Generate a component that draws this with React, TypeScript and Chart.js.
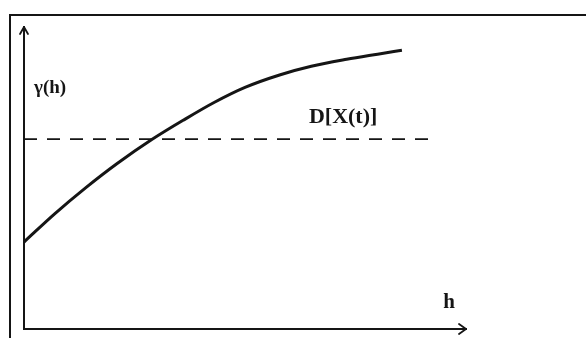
import React, { useEffect, useRef } from "react";
import { Chart, registerables } from "chart.js";

Chart.register(...registerables);

// Curve gamma(h): h values and gamma values
const hValues = [0, 0.7, 1.4, 2.1, 2.9, 3.6, 4.3, 5.0, 5.8, 6.5, 7.3, 8.0, 8.55];
const gammaValues = [2.88, 3.82, 4.68, 5.47, 6.28, 6.91, 7.5, 8.0, 8.42, 8.7, 8.93, 9.1, 9.23];

// Dashed level D[X(t)]
const sillLevel = 6.29;
const sillRange = [0, 9.19];

// Axis ranges
const xRange = [0, 10];
const yRange = [0, 10];

// Text annotations (label, x, y in data units)
const labelTexts = ["γ(h)", "D[X(t)]", "h"];
const labelX = [0.59, 7.22, 9.62];
const labelY = [7.98, 7.02, 0.88];
const labelSizes = [19, 22, 21];

const INK = "#151515";

const decorPlugin = {
  id: "decor",
  beforeDraw(chart: any) {
    const { ctx, width, height } = chart;
    ctx.save();
    ctx.fillStyle = "#ffffff";
    ctx.fillRect(0, 0, width, height);
    // figure frame
    ctx.strokeStyle = INK;
    ctx.lineWidth = 2;
    ctx.strokeRect(10, 15, width + 20, height + 20);
    ctx.restore();
  },
  afterDraw(chart: any) {
    const { ctx, chartArea, scales } = chart;
    const xs = scales.x;
    const ys = scales.y;
    ctx.save();
    ctx.strokeStyle = INK;
    ctx.lineWidth = 1.8;
    ctx.lineCap = "round";
    ctx.lineJoin = "round";
    // y arrow
    const l = chartArea.left;
    const t = chartArea.top;
    ctx.beginPath();
    ctx.moveTo(l - 4, t + 7);
    ctx.lineTo(l, t);
    ctx.lineTo(l + 4, t + 7);
    ctx.stroke();
    // x arrow
    const r = chartArea.right;
    const b = chartArea.bottom;
    ctx.beginPath();
    ctx.moveTo(r - 7, b - 5);
    ctx.lineTo(r, b);
    ctx.lineTo(r - 7, b + 5);
    ctx.stroke();
    // labels
    ctx.fillStyle = INK;
    ctx.textAlign = "center";
    ctx.textBaseline = "middle";
    labelTexts.forEach((txt, i) => {
      ctx.font = `bold ${labelSizes[i]}px "Liberation Serif", "DejaVu Serif", serif`;
      const px = xs.getPixelForValue(labelX[i]);
      const py = ys.getPixelForValue(labelY[i]);
      ctx.fillText(txt, px, py);
    });
    ctx.restore();
  },
};

export default function App() {
  const ref = useRef<HTMLCanvasElement | null>(null);
  useEffect(() => {
    document.body.style.margin = "0";
    const canvas = ref.current!;
    const chart = new Chart(canvas, {
      type: "line",
      data: {
        datasets: [
          {
            label: "γ(h)",
            data: hValues.map((h, i) => ({ x: h, y: gammaValues[i] })),
            borderColor: INK,
            borderWidth: 3,
            pointRadius: 0,
            cubicInterpolationMode: "monotone",
            fill: false,
          },
          {
            label: "D[X(t)]",
            data: sillRange.map((h) => ({ x: h, y: sillLevel })),
            borderColor: INK,
            borderWidth: 1.8,
            borderDash: [13, 10],
            pointRadius: 0,
            fill: false,
          },
        ],
      },
      options: {
        animation: false,
        responsive: false,
        maintainAspectRatio: false,
        layout: { padding: { left: 24, top: 27, right: 120, bottom: 9 } },
        plugins: { legend: { display: false }, tooltip: { enabled: false } },
        scales: {
          x: {
            type: "linear",
            min: xRange[0],
            max: xRange[1],
            ticks: { display: false },
            grid: { display: false, drawTicks: false },
            border: { display: true, color: INK, width: 2 },
          },
          y: {
            type: "linear",
            min: yRange[0],
            max: yRange[1],
            ticks: { display: false },
            grid: { display: false, drawTicks: false },
            border: { display: true, color: INK, width: 2 },
          },
        },
      },
      plugins: [decorPlugin],
    });
    return () => chart.destroy();
  }, []);
  return (
    <div style={{ position: "fixed", left: 0, top: 0, width: 586, height: 338 }}>
      <canvas ref={ref} width={586} height={338} style={{ display: "block" }} />
    </div>
  );
}
